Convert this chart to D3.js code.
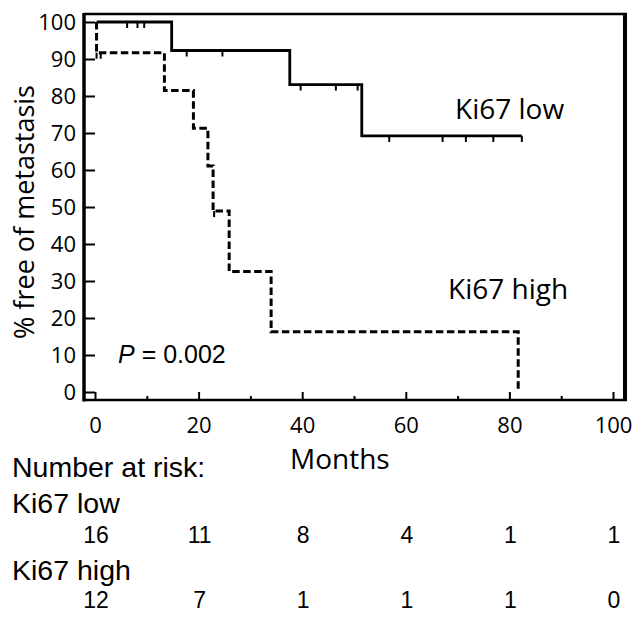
<!DOCTYPE html>
<html>
<head>
<meta charset="utf-8">
<script src="https://cdn.jsdelivr.net/npm/d3@7"></script>
<style>
	body { margin: 0; background: #fff; }
	.calib { font-family: "Open Sans", sans-serif; fill: #000; }
	.arial { font-family: "Liberation Sans", Arial, sans-serif; fill: #000; }
</style>
</head>
<body>
<div class="mainContainer"></div>
<script>
// ---- data ----
var riskMonths = [0, 20, 40, 60, 80, 100];
var riskLow = [16, 11, 8, 4, 1, 1];
var riskHigh = [12, 7, 1, 1, 1, 0];

// step curves: [month, % free] (value holds from that month on)
var lowSteps = [[0.3, 100], [14.8, 92.3], [37.6, 83.1], [51.5, 69.2], [82.4, 69.2]];
var highSteps = [[0.3, 100], [0.3, 91.7], [13.4, 81.5], [19.0, 71.3], [21.8, 61.1], [22.8, 48.9], [25.9, 32.6], [34.0, 16.3], [81.7, 0]];

// censored observations (months)
var lowCensor = [6.2, 8.2, 9.5, 17.7, 24.6, 39.7, 46.5, 50.7, 56.8, 67.1, 71.6, 76.9, 82.4];
var highCensor = [0.3, 1.1, 23.0];

var xMajor = [0, 20, 40, 60, 80, 100];
var xMinor = [10, 30, 50, 70, 90];
var yTicks = [0, 10, 20, 30, 40, 50, 60, 70, 80, 90, 100];

var W = 644, H = 625;
var svg = d3.select('.mainContainer').append('svg').attr('width', W).attr('height', H);

var x = d3.scaleLinear().domain([0, 100]).range([95, 613]);
var y = d3.scaleLinear().domain([0, 100]).range([392, 22]);

var frameL = 84, frameR = 625, frameT = 14, frameB = 400;

// axes (ticks point inward)
var gx = svg.append('g').attr('transform', 'translate(0,' + frameB + ')')
	.call(d3.axisBottom(x).tickValues(xMajor).tickSize(-8).tickPadding(17).tickFormat(d3.format('d')));
svg.append('g').attr('transform', 'translate(0,' + frameB + ')')
	.call(d3.axisBottom(x).tickValues(xMinor).tickSize(-4).tickFormat(''));
var gy = svg.append('g').attr('transform', 'translate(' + frameL + ',0)')
	.call(d3.axisLeft(y).tickValues(yTicks).tickSize(-11).tickPadding(8));

svg.selectAll('.domain').remove();
svg.selectAll('.tick line').attr('stroke', '#000').attr('stroke-width', 2);
gx.selectAll('text').attr('class', 'calib').style('font-size', '22px');
gy.selectAll('text').attr('class', 'calib').style('font-size', '22px');

// frame
svg.append('line').attr('x1', frameL).attr('x2', frameL).attr('y1', frameT - 1).attr('y2', frameB + 1.5).attr('stroke', '#000').attr('stroke-width', 3.5);
svg.append('line').attr('x1', frameL).attr('x2', frameR + 2).attr('y1', frameB).attr('y2', frameB).attr('stroke', '#000').attr('stroke-width', 2.5);
svg.append('line').attr('x1', frameL).attr('x2', frameR + 2).attr('y1', frameT).attr('y2', frameT).attr('stroke', '#000').attr('stroke-width', 2.5);
svg.append('line').attr('x1', frameR).attr('x2', frameR).attr('y1', frameT - 1).attr('y2', frameB + 1).attr('stroke', '#000').attr('stroke-width', 4);

// curves
var line = d3.line().x(function(d){ return x(d[0]); }).y(function(d){ return y(d[1]); }).curve(d3.curveStepAfter);

svg.append('path').datum(lowSteps).attr('d', line)
	.attr('fill', 'none').attr('stroke', '#000').attr('stroke-width', 2.8);
svg.append('path').datum(highSteps).attr('d', line)
	.attr('fill', 'none').attr('stroke', '#000').attr('stroke-width', 3).attr('stroke-dasharray', '7.5,3.5');

function levelAt(steps, t) {
	var v = steps[0][1];
	steps.forEach(function(s){ if (s[0] <= t) v = s[1]; });
	return v;
}

function censorTicks(times, steps) {
	svg.append('g').selectAll('line').data(times).enter().append('line')
		.attr('x1', function(d){ return x(d); }).attr('x2', function(d){ return x(d); })
		.attr('y1', function(d){ return y(levelAt(steps, d)); })
		.attr('y2', function(d){ return y(levelAt(steps, d)) + 6; })
		.attr('stroke', '#000').attr('stroke-width', 2);
}
censorTicks(lowCensor, lowSteps);
censorTicks(highCensor, highSteps);

// labels
svg.append('text').attr('class', 'calib').attr('x', 455).attr('y', 119).style('font-size', '28px').text('Ki67 low');
svg.append('text').attr('class', 'calib').attr('x', 448).attr('y', 299).style('font-size', '28px').text('Ki67 high');

var p = svg.append('text').attr('class', 'arial').attr('x', 118).attr('y', 363).style('font-size', '25px');
p.append('tspan').style('font-style', 'italic').text('P');
p.append('tspan').text(' = 0.002');

svg.append('text').attr('class', 'calib')
	.attr('transform', 'translate(34,' + 212 + ') rotate(-90)')
	.attr('text-anchor', 'middle').style('font-size', '27px').text('% free of metastasis');

svg.append('text').attr('class', 'calib').attr('x', 290).attr('y', 469).style('font-size', '28px').text('Months');

// number at risk table
svg.append('text').attr('class', 'arial').attr('x', 12).attr('y', 477).style('font-size', '28.5px').text('Number at risk:');
svg.append('text').attr('class', 'arial').attr('x', 12).attr('y', 513).style('font-size', '28.5px').text('Ki67 low');
svg.append('text').attr('class', 'arial').attr('x', 12).attr('y', 580).style('font-size', '28.5px').text('Ki67 high');

svg.append('g').selectAll('text').data(riskLow).enter().append('text')
	.attr('class', 'arial').attr('text-anchor', 'middle')
	.attr('x', function(d, i){ return x(riskMonths[i]) + 1; }).attr('y', 543)
	.style('font-size', '23px').text(function(d){ return d; });
svg.append('g').selectAll('text').data(riskHigh).enter().append('text')
	.attr('class', 'arial').attr('text-anchor', 'middle')
	.attr('x', function(d, i){ return x(riskMonths[i]) + 1; }).attr('y', 608)
	.style('font-size', '23px').text(function(d){ return d; });
</script>
</body>
</html>
